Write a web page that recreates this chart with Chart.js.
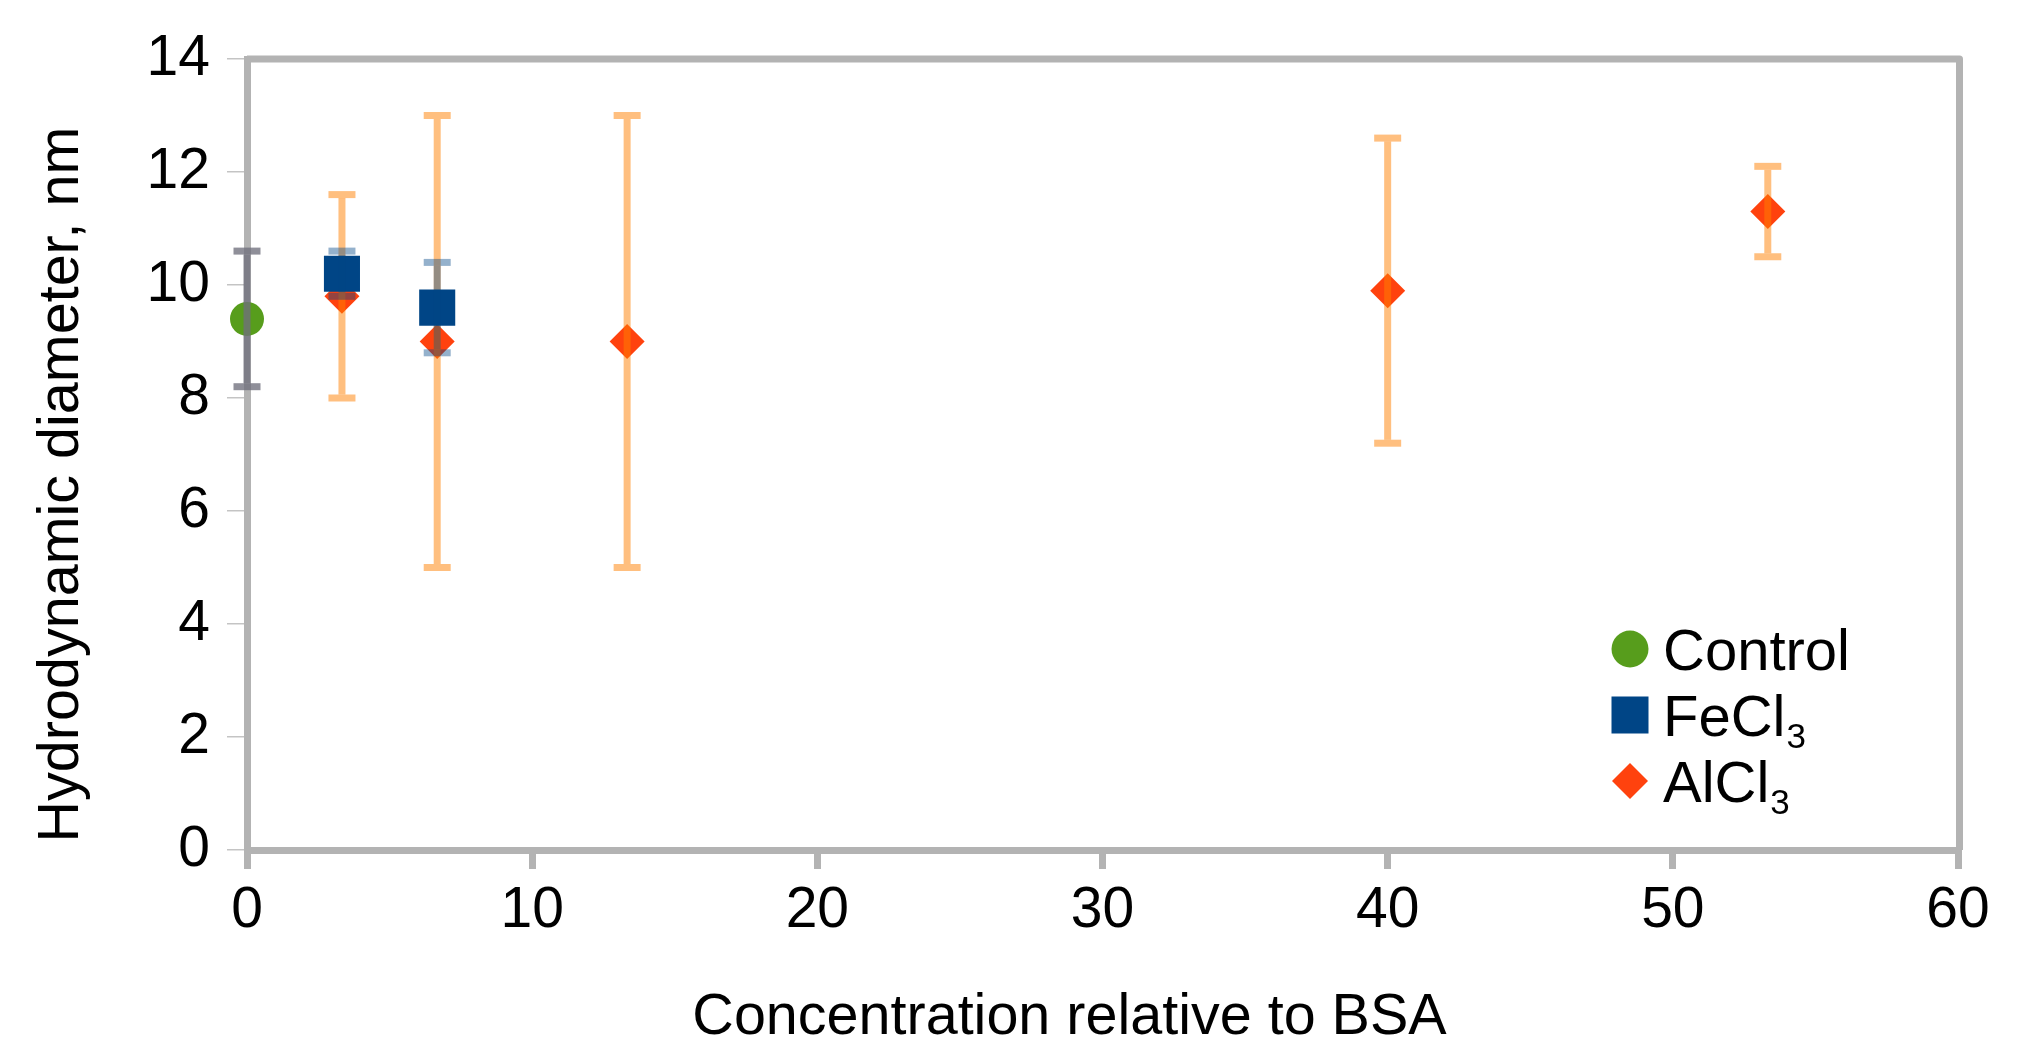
<!DOCTYPE html>
<html><head><meta charset="utf-8">
<script src="https://cdn.jsdelivr.net/npm/chart.js@4.4.1/dist/chart.umd.min.js"></script>
<style>html,body{margin:0;padding:0;background:#fff}canvas{display:block}</style>
</head><body>
<canvas id="c" width="2041" height="1044"></canvas>
<script>
// ---- data ----
const seriesNames = ['Control', 'FeCl₃', 'AlCl₃'];
const controlX = [0];
const controlY = [9.4];
const controlErr = [1.2];
const feX = [3.33, 6.67];
const feY = [10.2, 9.6];
const feErr = [0.4, 0.8];
const alX = [3.33, 6.67, 13.33, 40, 53.33];
const alY = [9.8, 9.0, 9.0, 9.9, 11.3];
const alErr = [1.8, 4.0, 4.0, 2.7, 0.8];
const xTickRange = [0, 60, 10];
const yTickRange = [0, 14, 2];
const xTitle = 'Concentration relative to BSA';
const yTitle = 'Hydrodynamic diameter, nm';

const FONT = "'Liberation Sans', Arial, sans-serif";
const AXIS = '#b3b3b3';
const pts = (xs, ys) => xs.map((x, i) => ({x: x, y: ys[i]}));

const datasets = [
  {label: seriesNames[0], data: pts(controlX, controlY), err: controlErr,
   pointStyle: 'circle', pointRadius: 17, backgroundColor: '#579d1c', borderWidth: 0,
   errColor: 'rgba(112,112,124,0.78)'},
  {label: seriesNames[1], data: pts(feX, feY), err: feErr,
   pointStyle: 'rect', pointRadius: 25.5, backgroundColor: '#004586', borderWidth: 0,
   errColor: 'rgba(0,69,134,0.42)'},
  {label: seriesNames[2], data: pts(alX, alY), err: alErr,
   pointStyle: 'rectRot', pointRadius: 17.5, backgroundColor: '#ff420e', borderWidth: 0,
   errColor: 'rgba(255,128,0,0.5)'}
];
datasets.forEach(d => { d.showLine = false; d.clip = false; d.pointHoverRadius = d.pointRadius; d.borderColor = d.backgroundColor; });

const errPlugin = {
  id: 'errbars',
  afterDatasetDraw(chart, args) {
    const ds = chart.data.datasets[args.index];
    if (!ds.err) return;
    const xs = chart.scales.x, ys = chart.scales.y, ctx = chart.ctx;
    const lw = 7, hw = 13.5;
    ctx.save();
    ctx.strokeStyle = ds.errColor;
    ctx.lineWidth = lw;
    ds.data.forEach((p, i) => {
      const px = xs.getPixelForValue(p.x);
      const top = ys.getPixelForValue(p.y + ds.err[i]);
      const bot = ys.getPixelForValue(p.y - ds.err[i]);
      ctx.beginPath(); ctx.moveTo(px, top + lw / 2); ctx.lineTo(px, bot - lw / 2); ctx.stroke();
      ctx.beginPath(); ctx.moveTo(px - hw, top); ctx.lineTo(px + hw, top); ctx.stroke();
      ctx.beginPath(); ctx.moveTo(px - hw, bot); ctx.lineTo(px + hw, bot); ctx.stroke();
    });
    ctx.restore();
  }
};

const framePlugin = {
  id: 'frame',
  beforeDatasetsDraw(chart) {
    const {ctx, chartArea: a} = chart;
    ctx.save();
    ctx.strokeStyle = AXIS;
    ctx.lineWidth = 7;
    ctx.lineJoin = 'round';
    ctx.beginPath();
    ctx.moveTo(a.left, a.top); ctx.lineTo(a.right + 1.5, a.top); ctx.lineTo(a.right + 1.5, a.bottom);
    ctx.stroke();
    ctx.restore();
  }
};

const titlePlugin = {
  id: 'axisTitles',
  afterDraw(chart) {
    const {ctx, chartArea: a} = chart;
    ctx.save();
    ctx.fillStyle = '#000';
    ctx.font = '57.5px ' + FONT;
    ctx.textAlign = 'center';
    ctx.textBaseline = 'alphabetic';
    ctx.fillText(xTitle, (a.left + a.right) / 2 - 33, 1034);
    ctx.translate(78, (a.top + a.bottom) / 2 + 30);
    ctx.rotate(-Math.PI / 2);
    ctx.fillText(yTitle, 0, 0);
    ctx.restore();
  }
};

const legendPlugin = {
  id: 'customLegend',
  afterDraw(chart) {
    const {ctx, chartArea: a} = chart;
    const mx = a.right - 328, y0 = a.bottom - 201, gap = 66;
    ctx.save();
    chart.data.datasets.forEach((ds, i) => {
      const cy = y0 + i * gap;
      ctx.fillStyle = ds.backgroundColor;
      ctx.beginPath();
      if (ds.pointStyle === 'circle') { ctx.arc(mx, cy, 18.5, 0, Math.PI * 2); }
      else if (ds.pointStyle === 'rect') { ctx.rect(mx - 18.5, cy - 18.5, 37, 37); }
      else { ctx.moveTo(mx, cy - 18); ctx.lineTo(mx + 18, cy); ctx.lineTo(mx, cy + 18); ctx.lineTo(mx - 18, cy); ctx.closePath(); }
      ctx.fill();
      const m = ds.label.match(/^(.*?)([₀-₉]*)$/);
      const main = m[1];
      const sub = m[2].replace(/[₀-₉]/g, c => String.fromCharCode(c.charCodeAt(0) - 0x2080 + 48));
      ctx.fillStyle = '#000';
      ctx.textBaseline = 'alphabetic';
      ctx.textAlign = 'left';
      ctx.font = '58px ' + FONT;
      const tx = mx + 33, by = cy + 21;
      ctx.fillText(main, tx, by);
      if (sub) {
        const w = ctx.measureText(main).width;
        ctx.font = '35px ' + FONT;
        ctx.fillText(sub, tx + w + 1, by + 12);
      }
    });
    ctx.restore();
  }
};

new Chart(document.getElementById('c'), {
  type: 'scatter',
  data: {datasets: datasets},
  plugins: [errPlugin, framePlugin, titlePlugin, legendPlugin],
  options: {
    responsive: false,
    animation: false,
    events: [],
    layout: {padding: {top: 59, right: 83, left: 0, bottom: 0}},
    plugins: {legend: {display: false}, tooltip: {enabled: false}},
    scales: {
      x: {
        type: 'linear', min: xTickRange[0], max: xTickRange[1],
        ticks: {stepSize: xTickRange[2], color: '#000', padding: 8, font: {family: FONT, size: 57, lineHeight: 1.2}, maxRotation: 0},
        grid: {drawOnChartArea: false, drawTicks: true, tickLength: 19, color: AXIS, lineWidth: 7},
        border: {display: true, color: AXIS, width: 7},
        title: {display: false},
        afterFit: s => { s.height = 194; s.paddingLeft = 0; s.paddingRight = 0; }
      },
      y: {
        type: 'linear', min: yTickRange[0], max: yTickRange[1],
        ticks: {stepSize: yTickRange[2], color: '#000', padding: 17, font: {family: FONT, size: 57, lineHeight: 1.2}},
        grid: {drawOnChartArea: false, drawTicks: true, tickLength: 20, color: '#c4c4c4', lineWidth: 1.5},
        border: {display: true, color: AXIS, width: 7},
        title: {display: false},
        afterFit: s => { s.width = 247; s.paddingTop = 0; s.paddingBottom = 0; }
      }
    }
  }
});
</script>
</body></html>
